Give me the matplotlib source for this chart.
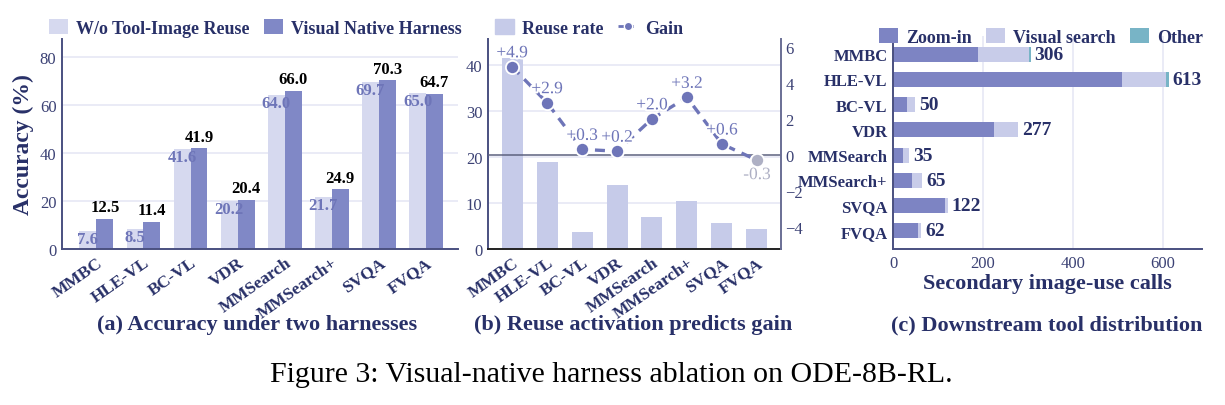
import matplotlib
matplotlib.use("Agg")
import matplotlib.pyplot as plt
import matplotlib.patheffects as pe
from matplotlib.lines import Line2D
from matplotlib.patches import Patch

plt.rcParams["font.family"] = ["Liberation Serif", "DejaVu Serif"]
plt.rcParams["axes.unicode_minus"] = True

# ---- data ----
benchmarks = ["MMBC", "HLE-VL", "BC-VL", "VDR", "MMSearch", "MMSearch+", "SVQA", "FVQA"]
acc_without = [7.6, 8.5, 41.6, 20.2, 64.0, 21.7, 69.7, 65.0]
acc_native = [12.5, 11.4, 41.9, 20.4, 66.0, 24.9, 70.3, 64.7]

reuse_rate = [41.4, 19.0, 3.7, 14.0, 7.0, 10.4, 5.7, 4.4]
gain = [4.9, 2.9, 0.3, 0.2, 2.0, 3.2, 0.6, -0.3]

calls_zoom = [190, 510, 31, 225, 22, 42, 116, 56]
calls_visual = [112, 96, 19, 52, 13, 23, 6, 6]
calls_other = [4, 7, 0, 0, 0, 0, 0, 0]

NAVY = "#283068"
TICK = "#3c4275"
LIGHT = "#d6d9ef"
DARK = "#8088c6"
REUSE = "#c6cbe9"
GAINC = "#6e75b8"
GREY = "#aeb0c4"
ZOOM = "#7d84c3"
VIS = "#c8cce9"
OTHER = "#78b4c6"
GRID = "#e6e8f5"
SPINE = "#4a5080"

LEG = dict(frameon=False, handlelength=1.05, handleheight=0.85, columnspacing=0.8,
           handletextpad=0.45, borderpad=0, prop={"weight": "bold", "size": 13},
           labelcolor=NAVY)


def style(ax, grid_axis="y"):
    for s in ["top", "right"]:
        ax.spines[s].set_visible(False)
    for s in ["left", "bottom"]:
        ax.spines[s].set_color(SPINE)
        ax.spines[s].set_linewidth(1.4)
    ax.grid(axis=grid_axis, color=GRID, linewidth=1.2)
    ax.set_axisbelow(True)
    ax.tick_params(colors=TICK, labelsize=12, length=0, pad=4)


fig = plt.figure(figsize=(12.25, 4.06), dpi=100)
W, H = 1225, 406


def box(l, r, t, b):
    return [l / W, 1 - b / H, (r - l) / W, (b - t) / H]


# ---- (a) accuracy ----
ax1 = fig.add_axes(box(62, 458, 40, 250))
style(ax1)
x = list(range(len(benchmarks)))
bw = 0.36
ax1.bar([i - bw / 2 for i in x], acc_without, bw, color=LIGHT, label="W/o Tool-Image Reuse")
ax1.bar([i + bw / 2 for i in x], acc_native, bw, color=DARK, label="Visual Native Harness")
for i in x:
    ax1.text(i - bw / 2, acc_without[i], f"{acc_without[i]:.1f}", ha="center", va="top",
             color=GAINC, fontsize=12, fontweight="bold")
    ax1.text(i + bw / 2, acc_native[i] + 1.5, f"{acc_native[i]:.1f}", ha="center", va="bottom",
             color="black", fontsize=12, fontweight="bold")
ax1.set_xlim(-0.73, 7.68)
ax1.set_ylim(0, 87.5)
ax1.set_yticks([0, 20, 40, 60, 80])
ax1.set_xticks(x)
ax1.set_xticklabels(benchmarks, rotation=35, ha="right", rotation_mode="anchor",
                    fontweight="bold", color=NAVY, fontsize=12.5)
ax1.set_ylabel("Accuracy (%)", fontsize=17, fontweight="bold", color=NAVY, labelpad=4)
ax1.legend(loc="center left", bbox_to_anchor=(40 / W, 1 - 29 / H), bbox_transform=fig.transFigure,
           ncol=2, **LEG)

# ---- (b) reuse rate vs gain ----
ax2 = fig.add_axes(box(488, 781, 40, 250))
style(ax2)
ax2.bar(x, reuse_rate, 0.6, color=REUSE)
ax2.set_xlim(-0.69, 7.69)
ax2.set_ylim(0, 45.6)
ax2.set_yticks([0, 10, 20, 30, 40])
ax2.set_xticks(x)
ax2.set_xticklabels(benchmarks, rotation=35, ha="right", rotation_mode="anchor",
                    fontweight="bold", color=NAVY, fontsize=12.5)
ax2.spines["bottom"].set_color("#222222")

ax3 = ax2.twinx()
ax3.set_ylim(-5.25, 6.45)
for s in ["top", "left", "bottom"]:
    ax3.spines[s].set_visible(False)
ax3.spines["right"].set_color("#6a6f95")
ax3.spines["right"].set_linewidth(1.4)
ax3.tick_params(colors=TICK, labelsize=12, length=0, pad=3)
ax3.set_yticks([-4, -2, 0, 2, 4, 6])
ax3.axhline(0, color="#5d627f", linewidth=1.1, zorder=1)
ax3.plot(x, gain, color=GAINC, linestyle=(0, (3, 2.2)), linewidth=2.4, zorder=2)
halo = [pe.withStroke(linewidth=3, foreground="white")]
for i, g in enumerate(gain):
    c = GAINC if g >= 0 else GREY
    ax3.plot(i, g, "o", color=c, markersize=9.5, markeredgecolor="white",
             markeredgewidth=1.3, zorder=3)
    if g >= 0:
        ax3.annotate(f"+{g:.1f}", (i, g), xytext=(0, 4), textcoords="offset points",
                     ha="center", va="bottom", color=c, fontsize=12.5, path_effects=halo, zorder=4)
    else:
        ax3.annotate(f"{g:.1f}", (i, g), xytext=(0, -5), textcoords="offset points",
                     ha="center", va="top", color=c, fontsize=12.5, path_effects=halo, zorder=4)
handles = [Patch(color=REUSE, label="Reuse rate"),
           Line2D([], [], color=GAINC, linestyle=(0, (2, 1.5)), linewidth=2, marker="o",
                  markersize=6, markeredgecolor="white", label="Gain")]
ax2.legend(handles=handles, loc="center left", bbox_to_anchor=(486 / W, 1 - 29 / H),
           bbox_transform=fig.transFigure, ncol=2, **LEG)

# ---- (c) downstream tools ----
ax4 = fig.add_axes(box(893, 1202, 37, 250))
style(ax4, grid_axis="x")
left_vis = calls_zoom
left_other = [a + b for a, b in zip(calls_zoom, calls_visual)]
totals = [a + b + c for a, b, c in zip(calls_zoom, calls_visual, calls_other)]
ax4.barh(x, calls_zoom, 0.6, color=ZOOM, label="Zoom-in")
ax4.barh(x, calls_visual, 0.6, left=left_vis, color=VIS, label="Visual search")
ax4.barh(x, calls_other, 0.6, left=left_other, color=OTHER, label="Other")
for i, t in enumerate(totals):
    ax4.text(t + 9, i, f"{t}", va="center", ha="left", fontsize=14, fontweight="bold", color=NAVY)
ax4.set_ylim(7.72, -0.72)
ax4.set_xlim(0, 687)
ax4.set_xticks([0, 200, 400, 600])
ax4.set_yticks(x)
ax4.set_yticklabels(benchmarks, fontweight="bold", color=NAVY, fontsize=12)
ax4.set_xlabel("Secondary image-use calls", fontsize=16, fontweight="bold", color=NAVY, labelpad=2)
ax4.legend(loc="center left", bbox_to_anchor=(870 / W, 1 - 38 / H), bbox_transform=fig.transFigure,
           ncol=3, **LEG)

# ---- subtitles & caption ----
sub = dict(fontsize=16, fontweight="bold", color=NAVY, ha="center", va="center")
fig.text(257 / W, 1 - 325 / H, "(a) Accuracy under two harnesses", **sub)
fig.text(633 / W, 1 - 325 / H, "(b) Reuse activation predicts gain", **sub)
fig.text(1047 / W, 1 - 325 / H, "(c) Downstream tool distribution", **sub)
fig.text(611 / W, 1 - 375 / H, "Figure 3: Visual-native harness ablation on ODE-8B-RL.",
         fontsize=21.5, color="black", ha="center", va="center")

fig.savefig("out.png", dpi=100)
